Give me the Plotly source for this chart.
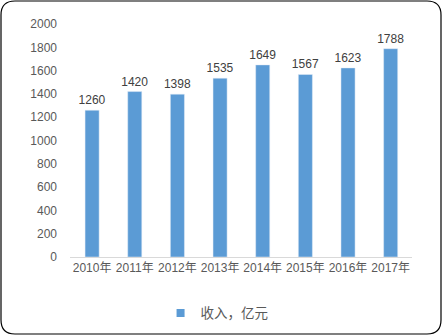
import plotly.graph_objects as go

years = ["2010年", "2011年", "2012年", "2013年", "2014年", "2015年", "2016年", "2017年"]
income = [1260, 1420, 1398, 1535, 1649, 1567, 1623, 1788]
series_name = "收入，亿元"

W, H = 443, 336
L, R, T, B = 70, 31, 24, 79
pw, ph = W - L - R, H - T - B

def px(x):
    return (x - L) / pw

def py(y):
    return (H - B - y) / ph

fig = go.Figure()
fig.add_trace(go.Bar(
    x=years, y=income, name=series_name, showlegend=False,
    marker=dict(color="#5B9BD5"),
    text=[str(v) for v in income], textposition="outside",
    textfont=dict(color="#404040", size=12),
    constraintext="none", cliponaxis=False,
))
fig.add_trace(go.Scatter(
    x=[years[0]], y=[None], mode="markers", name=series_name,
    marker=dict(symbol="square", size=8, color="#5B9BD5"),
    showlegend=True,
))

x0, x1, y0, y1, r = 1, 441, 1, 334, 14
path = (f"M {px(x0 + r)} {py(y0)} L {px(x1 - r)} {py(y0)} "
        f"Q {px(x1)} {py(y0)} {px(x1)} {py(y0 + r)} "
        f"L {px(x1)} {py(y1 - r)} Q {px(x1)} {py(y1)} {px(x1 - r)} {py(y1)} "
        f"L {px(x0 + r)} {py(y1)} Q {px(x0)} {py(y1)} {px(x0)} {py(y1 - r)} "
        f"L {px(x0)} {py(y0 + r)} Q {px(x0)} {py(y0)} {px(x0 + r)} {py(y0)} Z")

fig.update_layout(
    width=W, height=H,
    margin=dict(l=L, r=R, t=T, b=B, autoexpand=False),
    paper_bgcolor="white", plot_bgcolor="white",
    font=dict(family="Liberation Sans, Noto Sans CJK SC, sans-serif", color="#595959", size=12),
    bargap=0.67,
    showlegend=True,
    legend=dict(orientation="h", x=0.43, xanchor="center", yref="container",
                y=0.068, yanchor="middle", itemwidth=30,
                font=dict(size=13.5, color="#595959")),
    xaxis=dict(showline=True, linecolor="#D9D9D9", linewidth=1, ticks="", showgrid=False),
    yaxis=dict(range=[0, 2000], dtick=200, showgrid=False, zeroline=False,
               showline=False, ticks="", ticklabelstandoff=12),
    shapes=[dict(type="path", xref="paper", yref="paper", path=path,
                 line=dict(color="black", width=1.2))],
)

fig.write_html("out.html")
